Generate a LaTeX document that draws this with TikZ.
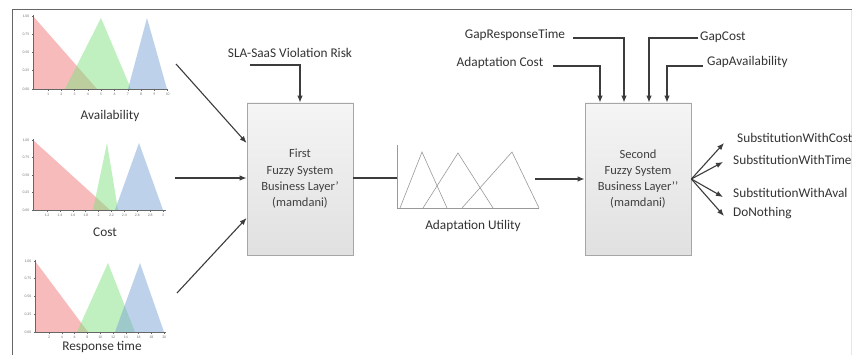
\documentclass[tikz,border=0pt]{standalone}
\usepackage{fontspec}
\setmainfont{Carlito}
\usetikzlibrary{arrows.meta,calc}

\definecolor{mfred}{RGB}{240,120,120}
\definecolor{mfgreen}{RGB}{130,225,130}
\definecolor{mfblue}{RGB}{125,165,215}
\definecolor{inkgray}{RGB}{60,60,60}

\tikzset{
  lbl/.style={font=\fontsize{13.3}{16}\selectfont, text=black!80, inner sep=0pt},
  fuzzybox/.style={draw=black!35, line width=0.8pt, top color=black!4, bottom color=black!12,
    minimum width=106pt, minimum height=152pt, align=center,
    font=\fontsize{12.5}{16.3}\selectfont, text=black!75},
  arr/.style={draw=inkgray, line width=1.1pt, -{Latex[length=7pt,width=5.5pt]}},
  ln/.style={draw=inkgray, line width=1.1pt},
  ticklbl/.style={font=\fontsize{3.8}{4}\selectfont, text=black!55, inner sep=0.5pt},
  axisln/.style={draw=black!60, line width=0.5pt},
  mfr/.style={fill=mfred, fill opacity=0.5},
  mfg/.style={fill=mfgreen, fill opacity=0.5},
  mfb/.style={fill=mfblue, fill opacity=0.5},
  utilmf/.style={draw=black!40, line width=0.6pt},
}

\begin{document}
\begin{tikzpicture}[x=1pt,y=-1pt]
\useasboundingbox (0,0) rectangle (852,355);
\fill[white] (0,0) rectangle (852,355);

% frame
\draw[black!60, line width=1pt] (12,356) -- (12,10) -- (852,10);
\draw[black!10, line width=0.6pt] (851,10) -- (851,356);

% ---------- membership chart: Availability ----------
\fill[mfr] (33,16) -- (33,89) -- (97,89) -- cycle;
\fill[mfg] (65,89) -- (101,18) -- (131,89) -- cycle;
\fill[mfb] (128,89) -- (147,18) -- (167,89) -- cycle;
\draw[axisln] (33,15) -- (33,89) -- (168,89);
\foreach \v [count=\i from 0] in {1.00,0.75,0.50,0.25,0.00} {
  \node[ticklbl, anchor=east] at (30,16+18.25*\i) {\v};
  \draw[axisln] (33,16+18.25*\i) -- ++(-1.5,0);
}
\foreach \t [count=\i from 0] in {1,...,10} {
  \draw[axisln] (48+13.3*\i,89) -- ++(0,2);
  \node[ticklbl, anchor=north] at (48+13.3*\i,92) {\t};
}
\node[lbl] (avail) at (110,116) {Availability};

% ---------- membership chart: Cost ----------
\fill[mfr] (33,140) -- (33,210) -- (110,210) -- cycle;
\fill[mfg] (93,210) -- (107,143) -- (118,210) -- cycle;
\fill[mfb] (115,210) -- (139,143) -- (163,210) -- cycle;
\draw[axisln] (33,139) -- (33,210) -- (166,210);
\foreach \v [count=\i from 0] in {1.00,0.75,0.50,0.25,0.00} {
  \node[ticklbl, anchor=east] at (30,140+17.5*\i) {\v};
  \draw[axisln] (33,140+17.5*\i) -- ++(-1.5,0);
}
\foreach \t [count=\i from 0] in {1.2,1.4,1.6,1.8,2,2.2,2.4,2.6,2.8,3} {
  \draw[axisln] (47+12.9*\i,210) -- ++(0,2);
  \node[ticklbl, anchor=north] at (47+12.9*\i,213) {\t};
}
\node[lbl] (cost) at (105,232) {Cost};

% ---------- membership chart: Response time ----------
\fill[mfr] (35,261) -- (35,332) -- (88,332) -- cycle;
\fill[mfg] (77,332) -- (108,263) -- (135,332) -- cycle;
\fill[mfb] (115,332) -- (140,263) -- (164,332) -- cycle;
\draw[axisln] (35,260) -- (35,332) -- (166,332);
\foreach \v [count=\i from 0] in {1.00,0.75,0.50,0.25,0.00} {
  \node[ticklbl, anchor=east] at (32,261+17.75*\i) {\v};
  \draw[axisln] (35,261+17.75*\i) -- ++(-1.5,0);
}
\foreach \t [count=\i from 0] in {2,4,...,20} {
  \draw[axisln] (49+12.8*\i,332) -- ++(0,2);
  \node[ticklbl, anchor=north] at (49+12.8*\i,335) {\t};
}
\node[lbl, anchor=base] (resp) at (102,351) {Response time};

% ---------- first fuzzy system ----------
\node[fuzzybox] (box1) at (300,179) {First\\Fuzzy System\\Business Layer'\\(mamdani)};

\coordinate (inA) at (176,64);
\coordinate (inC) at (175,178);
\coordinate (inR) at (177,293);
\draw[arr] (inA) -- ([yshift=36pt]box1.west);
\draw[arr] (inC) -- (box1.west |- inC);
\draw[arr] (inR) -- ([yshift=-39pt]box1.west);

\node[lbl] (sla) at (290,53) {SLA-SaaS Violation Risk};
\coordinate (slaL) at (250,65);
\draw[arr] (slaL) -| (box1.north);

% ---------- adaptation utility ----------
\coordinate (uaxis) at (397,178);
\draw[ln] (box1.east |- uaxis) -- (uaxis);
\draw[utilmf] (397,145) -- (397,208) -- (539,208);
\draw[utilmf] (400,208) -- (422,152) -- (447,208);
\draw[utilmf] (423,208) -- (458,153) -- (493,208);
\draw[utilmf] (462,208) -- (512,152) -- (539,208);
\node[lbl] (util) at (473,226) {Adaptation Utility};

% ---------- second fuzzy system ----------
\node[fuzzybox] (box2) at (638,179) {Second\\Fuzzy System\\Business Layer'{}'\\(mamdani)};
\coordinate (uout) at (535,179);
\draw[arr] (uout) -- (box2.west |- uout);

\node[lbl] (gRT) at (515,35) {GapResponseTime};
\node[lbl] (aCost) at (500,63) {Adaptation Cost};
\node[lbl, anchor=west] (gCost) at (700,37) {GapCost};
\node[lbl, anchor=west] (gAv) at (707,62) {GapAvailability};

\coordinate (gRTs) at (573,38);
\coordinate (aCosts) at (553,66);
\coordinate (gCosts) at (698,38);
\coordinate (gAvs) at (703,66);
\draw[arr] (aCosts) -| ([xshift=-38pt]box2.north);
\draw[arr] (gRTs) -| ([xshift=-14pt]box2.north);
\draw[arr] (gCosts) -| ([xshift=11pt]box2.north);
\draw[arr] (gAvs) -| ([xshift=29pt]box2.north);

% ---------- decisions ----------
\node[lbl, anchor=west] (oCost) at (737,138) {SubstitutionWithCost};
\node[lbl, anchor=west] (oTime) at (733,160) {SubstitutionWithTime};
\node[lbl, anchor=west] (oAval) at (733,193) {SubstitutionWithAval};
\node[lbl, anchor=west] (oNone) at (733,213) {DoNothing};

\coordinate (fan) at (box2.east);
\coordinate (eCost) at (724,143);
\coordinate (eTime) at (723,162);
\coordinate (eAval) at (723,197);
\coordinate (eNone) at (724,216);
\draw[arr] (fan) -- (eCost);
\draw[arr] (fan) -- (eTime);
\draw[arr] (fan) -- (eAval);
\draw[arr] (fan) -- (eNone);
\end{tikzpicture}
\end{document}
